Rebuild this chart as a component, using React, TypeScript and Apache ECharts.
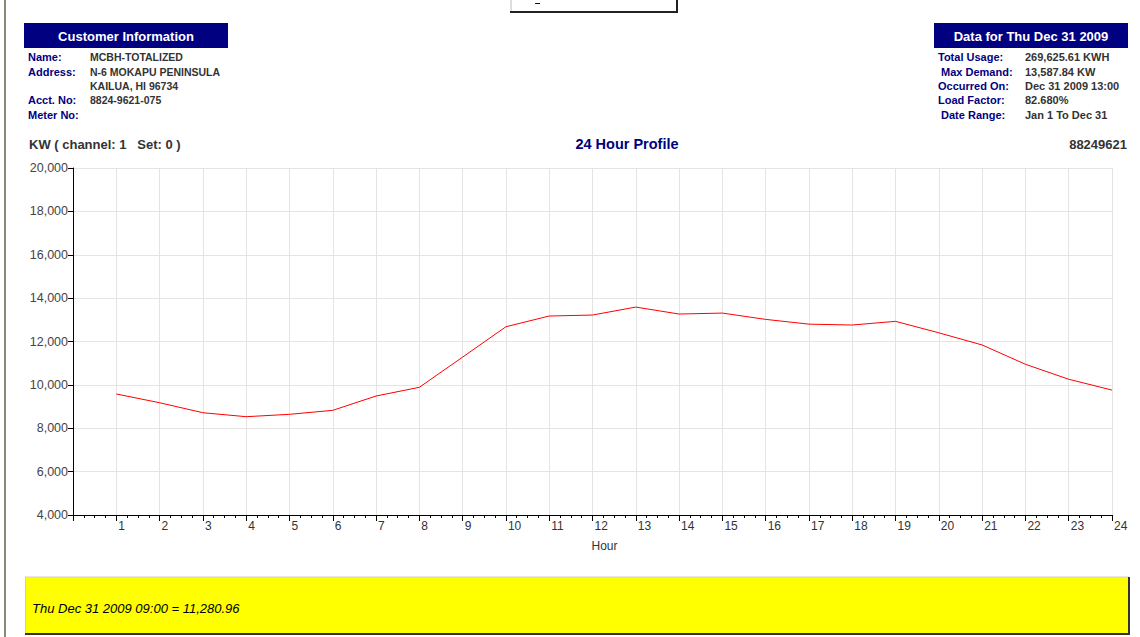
import React, { useEffect, useRef } from "react";
import * as echarts from "echarts";

const hours = [1, 2, 3, 4, 5, 6, 7, 8, 9, 10, 11, 12, 13, 14, 15, 16, 17, 18, 19, 20, 21, 22, 23, 24];
const kw = [9580, 9177, 8716, 8533, 8642, 8826, 9486, 9887, 11280.96, 12680, 13175, 13220, 13587.84, 13266, 13310, 13020, 12800, 12760, 12930, 12400, 11840, 10950, 10260, 9760];

const customerLabels = ["Name:", "Address:", "", "Acct. No:", "Meter No:"];
const customerValues = ["MCBH-TOTALIZED", "N-6 MOKAPU PENINSULA", "KAILUA, HI 96734", "8824-9621-075", ""];
const dataLabels = ["Total Usage:", " Max Demand:", "Occurred On:", "Load Factor:", " Date Range:"];
const dataValues = ["269,625.61 KWH", "13,587.84 KW", "Dec 31 2009 13:00", "82.680%", "Jan 1 To Dec 31"];

const FONT = "'Liberation Sans', Arial, sans-serif";
const NAVY = "#000080";
const ROW_Y = [57, 72, 86, 100, 115];

export default function App() {
  const ref = useRef<HTMLDivElement>(null);
  useEffect(() => {
    if (!ref.current) return;
    const chart = echarts.init(ref.current, null, { renderer: "svg" });
    const graphics: any[] = [
      { type: "rect", shape: { x: 4, y: 0, width: 2, height: 637 }, style: { fill: "#8c8878" } },
      { type: "line", shape: { x1: 511, y1: 0, x2: 511, y2: 12 }, style: { stroke: "#bbbbbb", lineWidth: 1 } },
      { type: "line", shape: { x1: 510, y1: 12, x2: 678, y2: 12 }, style: { stroke: "#222", lineWidth: 2 } },
      { type: "line", shape: { x1: 677, y1: 0, x2: 677, y2: 13 }, style: { stroke: "#222", lineWidth: 2 } },
      { type: "line", shape: { x1: 535, y1: 3.5, x2: 540, y2: 3.5 }, style: { stroke: NAVY, lineWidth: 1 } },
      { type: "rect", shape: { x: 24, y: 23, width: 204, height: 25 }, style: { fill: NAVY } },
      { type: "text", x: 126, y: 36, style: { text: "Customer Information", fill: "#fff", font: `bold 13px ${FONT}`, align: "center", verticalAlign: "middle" } },
      { type: "rect", shape: { x: 934, y: 23, width: 194, height: 25 }, style: { fill: NAVY } },
      { type: "text", x: 1031, y: 36, style: { text: "Data for Thu Dec 31 2009", fill: "#fff", font: `bold 13px ${FONT}`, align: "center", verticalAlign: "middle" } },
      { type: "text", x: 29, y: 144, style: { text: "KW ( channel: 1   Set: 0 )", fill: "#333", font: `bold 13px ${FONT}`, verticalAlign: "middle" } },
      { type: "text", x: 627, y: 144, style: { text: "24 Hour Profile", fill: NAVY, font: `bold 14.5px ${FONT}`, align: "center", verticalAlign: "middle" } },
      { type: "text", x: 1127, y: 144, style: { text: "88249621", fill: "#333", font: `bold 13px ${FONT}`, align: "right", verticalAlign: "middle" } },
      { type: "rect", shape: { x: 25, y: 577, width: 1104, height: 57 }, style: { fill: "#ffff00" } },
      { type: "line", shape: { x1: 25, y1: 577, x2: 1129, y2: 577 }, style: { stroke: "#cccccc", lineWidth: 1 } },
      { type: "line", shape: { x1: 25.5, y1: 577, x2: 25.5, y2: 634 }, style: { stroke: "#cccccc", lineWidth: 1 } },
      { type: "line", shape: { x1: 25, y1: 634, x2: 1130, y2: 634 }, style: { stroke: "#333", lineWidth: 2 } },
      { type: "line", shape: { x1: 1129, y1: 577, x2: 1129, y2: 635 }, style: { stroke: "#333", lineWidth: 2 } },
      { type: "text", x: 32, y: 608, style: { text: "Thu Dec 31 2009 09:00 = 11,280.96", fill: "#000", font: `italic 13px ${FONT}`, verticalAlign: "middle" } },
    ];
    customerLabels.forEach((l, i) => {
      if (l) graphics.push({ type: "text", x: 28, y: ROW_Y[i], style: { text: l, fill: NAVY, font: `bold 11px ${FONT}`, verticalAlign: "middle" } });
      if (customerValues[i]) graphics.push({ type: "text", x: 90, y: ROW_Y[i], style: { text: customerValues[i], fill: "#333", font: `bold 10.5px ${FONT}`, verticalAlign: "middle" } });
    });
    dataLabels.forEach((l, i) => {
      graphics.push({ type: "text", x: 938, y: ROW_Y[i], style: { text: l, fill: NAVY, font: `bold 11px ${FONT}`, verticalAlign: "middle" } });
      graphics.push({ type: "text", x: 1025, y: ROW_Y[i], style: { text: dataValues[i], fill: "#333", font: `bold 11px ${FONT}`, verticalAlign: "middle" } });
    });

    chart.setOption({
      animation: false,
      grid: { left: 73, right: 28, top: 168, bottom: 122, containLabel: false },
      xAxis: {
        type: "value",
        min: 0,
        max: 24,
        interval: 1,
        name: "Hour",
        nameLocation: "middle",
        nameGap: 25,
        nameTextStyle: { color: "#333", fontFamily: FONT, fontSize: 12, padding: [0, 0, 0, 24] },
        axisLine: { show: true, lineStyle: { color: "#000", width: 1 } },
        axisTick: { show: true, length: 6, lineStyle: { color: "#000" } },
        minorTick: { show: true, splitNumber: 4, length: 3, lineStyle: { color: "#000" } },
        axisLabel: {
          color: "#333",
          fontFamily: FONT,
          fontSize: 12,
          align: "left",
          margin: 5,
          padding: [0, 0, 0, 2],
          formatter: (v: number) => (v === 0 ? "" : String(v)),
        },
        splitLine: { show: true, lineStyle: { color: "#e4e4e4", width: 1 } },
      },
      yAxis: {
        type: "value",
        min: 4000,
        max: 20000,
        interval: 2000,
        axisLine: { show: true, lineStyle: { color: "#000", width: 1 } },
        axisTick: { show: true, length: 5, lineStyle: { color: "#000" } },
        axisLabel: {
          color: "#444",
          fontFamily: FONT,
          fontSize: 12.5,
          margin: 5,
          formatter: (v: number) => v.toLocaleString("en-US"),
        },
        splitLine: { show: true, lineStyle: { color: "#e4e4e4", width: 1 } },
      },
      series: [
        {
          type: "line",
          data: hours.map((h, i) => [h, kw[i]]),
          showSymbol: false,
          lineStyle: { color: "#ff0000", width: 1 },
          itemStyle: { color: "#ff0000" },
        },
      ],
      graphic: graphics,
    });
    return () => chart.dispose();
  }, []);
  return <div ref={ref} style={{ position: "absolute", left: 0, top: 0, width: 1140, height: 637, background: "#fff" }} />;
}
